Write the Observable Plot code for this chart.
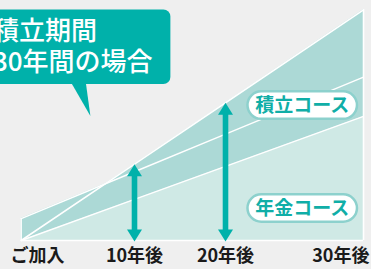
<!DOCTYPE html>
<html>
<head>
<meta charset="utf-8">
<script src="https://cdn.jsdelivr.net/npm/d3@7"></script>
<script src="https://cdn.jsdelivr.net/npm/@observablehq/plot@0.6"></script>
<style>
  html, body { margin: 0; padding: 0; background: #efefef; }
  svg { display: block; }
</style>
</head>
<body>
<div id="chart"></div>
<script>
// ---- data ----
const years      = [0, 10, 20, 30];
const tsumitate  = [0, 33.1, 59.7, 100];   // 積立コース (upper line)
const middleLine = [9.5, 29.8, 46.1, 70.8]; // second course line
const nenkin     = [0, 17.8, 32.1, 53.8];  // 年金コース (lower line)
const tickYears  = [0, 10, 20, 30];
const tickLabels = ["ご加入", "10年後", "20年後", "30年後"];
const arrowYears = [10, 20];
const calloutLines = ["積立期間", "30年間の場合"];
const courseLabels = ["積立コース", "年金コース"];

const rows = years.map((x, i) => ({x, top: tsumitate[i], mid: middleLine[i], low: nenkin[i]}));
const ticks = tickYears.map((x, i) => ({x, label: tickLabels[i]}));
const arrows = arrowYears.map(x => ({x, top: tsumitate[years.indexOf(x)]}));

const TEAL = "#00b1aa";
const LIGHT = "#cfe9e5";
const DARK = "#acd9d6";
const FONT = "'Noto Sans CJK JP', 'Noto Sans', sans-serif";

const headUp = {draw(ctx) { ctx.moveTo(0, 0); ctx.lineTo(7.5, 12); ctx.lineTo(-7.5, 12); ctx.closePath(); }};
const headDown = {draw(ctx) { ctx.moveTo(0, 1); ctx.lineTo(7.5, -11); ctx.lineTo(-7.5, -11); ctx.closePath(); }};

// annotation: callout bubble pointing into the chart + course pills
function annotations(index, scales) {
  const X = scales.x, Y = scales.y;
  const g = d3.create("svg:g").attr("font-family", FONT).attr("text-anchor", "start");
  // callout (anchored at its pointer tip)
  const tx = X(6.15), ty = Y(53.75);
  const top = ty - 106.5, bottom = ty - 32, right = tx + 80, left = tx - 130;
  g.append("rect").attr("x", left).attr("y", top).attr("width", right - left).attr("height", bottom - top)
    .attr("rx", 7).attr("fill", TEAL);
  g.append("path").attr("d", `M${tx - 19},${bottom - 1}L${tx - 4.5},${bottom - 1}L${tx},${ty}Z`).attr("fill", TEAL);
  const t = g.append("text").attr("fill", "white").attr("font-size", 26).attr("font-weight", 500)
    .attr("text-anchor", "start");
  calloutLines.forEach((s, i) => t.append("tspan").attr("x", tx - 97.5).attr("y", ty - 75.5 + i * 30.5).text(s));
  // pills
  const pillY = [58.5, 13.87];
  courseLabels.forEach((s, i) => {
    const cx = X(25.6), cy = Y(pillY[i]);
    g.append("rect").attr("x", cx - 54.8).attr("y", cy - 13.75).attr("width", 109.5).attr("height", 27.5)
      .attr("rx", 13.75).attr("fill", "white").attr("stroke", "#8dd1cd").attr("stroke-width", 2.5);
    g.append("text").attr("x", cx).attr("y", cy + 7.3).attr("text-anchor", "middle")
      .attr("fill", "#10aea7").attr("font-size", 19).attr("font-weight", 600).text(s);
  });
  return g.node();
}

const chart = Plot.plot({
  width: 371,
  height: 269,
  margin: 0,
  style: {background: "#efefef", fontFamily: FONT, overflow: "hidden"},
  x: {type: "linear", domain: [0, 10, 20, 30], range: [20.7, 134, 225, 363], axis: null},
  y: {domain: [0, 100], range: [240, 9.3], axis: null},
  marks: [
    Plot.areaY(rows, {x: "x", y1: 0, y2: "low", fill: LIGHT}),
    Plot.areaY(rows, {x: "x", y1: "low", y2: "mid", fill: DARK}),
    Plot.areaY(rows, {x: "x", y1: "low", y2: "top", fill: DARK}),
    Plot.lineY(rows, {x: "x", y: "low", stroke: "white", strokeWidth: 1.4}),
    Plot.lineY(rows, {x: "x", y: "mid", stroke: "white", strokeWidth: 1.4}),
    Plot.lineY(rows, {x: "x", y: "top", stroke: "white", strokeWidth: 1.6}),
    Plot.ruleY([0], {x1: 0, x2: 30, stroke: "white", strokeWidth: 1.5}),
    Plot.ruleX([30], {y1: 0, y2: 100, stroke: "white", strokeWidth: 1.6}),
    Plot.ruleX([0], {y1: 0, y2: middleLine[0], stroke: "white", strokeWidth: 1.4}),
    Plot.ruleX(arrows, {x: "x", y1: "top", y2: 0, stroke: TEAL, strokeWidth: 5.6, insetTop: 8, insetBottom: 8}),
    Plot.dot(arrows, {x: "x", y: "top", symbol: headUp, fill: TEAL, stroke: "none"}),
    Plot.dot(arrows, {x: "x", y: 0, symbol: headDown, fill: TEAL, stroke: "none"}),
    Plot.text(ticks.slice(0, 1), {x: "x", y: 0, text: "label", textAnchor: "start", dx: -10.7, dy: 16, fontSize: 18, fontWeight: 600, fill: "#1a1a1a"}),
    Plot.text(ticks.slice(1, 3), {x: "x", y: 0, text: "label", textAnchor: "middle", dy: 16, fontSize: 18, fontWeight: 600, fill: "#1a1a1a"}),
    Plot.text(ticks.slice(3), {x: "x", y: 0, text: "label", textAnchor: "start", dx: -51.3, dy: 16, fontSize: 18, fontWeight: 600, fill: "#1a1a1a"}),
    annotations
  ]
});
document.getElementById("chart").appendChild(chart);
</script>
</body>
</html>
